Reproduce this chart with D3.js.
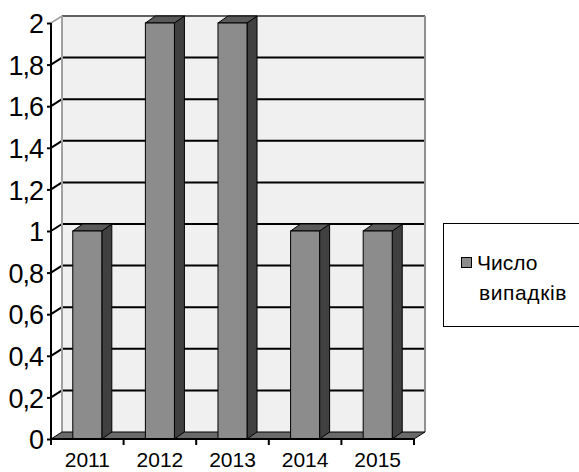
<!DOCTYPE html>
<html>
<head>
<meta charset="utf-8">
<script src="https://cdn.jsdelivr.net/npm/d3@7"></script>
<style>
  html, body { margin: 0; padding: 0; background: #fff; }
  svg { display: block; font-family: "Liberation Sans", Arial, sans-serif; }
</style>
</head>
<body>
<svg id="chart" width="579" height="472"></svg>
<script>
// Data
const years = ["2011", "2012", "2013", "2014", "2015"];
const cases = [1, 2, 2, 1, 1];
const yTicks = [0, 0.2, 0.4, 0.6, 0.8, 1, 1.2, 1.4, 1.6, 1.8, 2];
const seriesName = ["Число", "випадків"];

(function () {
  const svg = d3.select("#chart");

  // Plot geometry (front plane) and 3D depth offsets
  const plotL = 51, plotR = 414, plotT = 23, plotB = 439;
  const wallDx = 11, wallDy = -7;
  const barDx = 10, barDy = -7;

  const x = d3.scaleBand().domain(years).range([plotL, plotR]).padding(0);
  const y = d3.scaleLinear().domain([0, 2]).range([plotB, plotT]);
  const barW = x.bandwidth() * 0.4;

  const fmt = d => String(+d.toFixed(1)).replace(".", ",");

  // Left side wall (white)
  svg.append("path")
    .attr("d", `M${plotL},${y(0)} L${plotL},${y(2)} L${plotL + wallDx},${y(2) + wallDy} L${plotL + wallDx},${y(0) + wallDy} Z`)
    .attr("fill", "#fff");

  // Back wall
  svg.append("rect")
    .attr("x", plotL + wallDx).attr("y", y(2) + wallDy)
    .attr("width", plotR - plotL).attr("height", y(0) - y(2))
    .attr("fill", "#f0f0f0");

  // Gridlines: on back wall and diagonal on side wall
  const grid = svg.append("g");
  yTicks.filter(t => t > 0 && t < 2).forEach(t => {
    grid.append("line")
      .attr("x1", plotL + wallDx).attr("x2", plotR + wallDx)
      .attr("y1", y(t) + wallDy).attr("y2", y(t) + wallDy)
      .attr("stroke", "#000").attr("stroke-width", 2);
    grid.append("line")
      .attr("x1", plotL).attr("x2", plotL + wallDx)
      .attr("y1", y(t)).attr("y2", y(t) + wallDy)
      .attr("stroke", "#000").attr("stroke-width", 2);
  });

  // Wall borders
  svg.append("line")
    .attr("x1", plotL + wallDx).attr("x2", plotR + wallDx)
    .attr("y1", y(2) + wallDy).attr("y2", y(2) + wallDy)
    .attr("stroke", "#606060").attr("stroke-width", 2);
  svg.append("line")
    .attr("x1", plotL + wallDx).attr("x2", plotL + wallDx)
    .attr("y1", y(2) + wallDy).attr("y2", y(0) + wallDy)
    .attr("stroke", "#a0a0a0").attr("stroke-width", 2);
  svg.append("line")
    .attr("x1", plotR + wallDx).attr("x2", plotR + wallDx)
    .attr("y1", y(2) + wallDy).attr("y2", y(0) + wallDy)
    .attr("stroke", "#909090").attr("stroke-width", 2);
  svg.append("line")
    .attr("x1", plotL).attr("x2", plotL + wallDx)
    .attr("y1", y(2)).attr("y2", y(2) + wallDy)
    .attr("stroke", "#a0a0a0").attr("stroke-width", 1.5);

  // Floor
  svg.append("path")
    .attr("d", `M${plotL},${y(0)} L${plotR},${y(0)} L${plotR + wallDx},${y(0) + wallDy} L${plotL + wallDx},${y(0) + wallDy} Z`)
    .attr("fill", "#6a6a6a").attr("stroke", "#000").attr("stroke-width", 1);

  // Bars (side, top and front faces)
  const bars = svg.append("g").selectAll("g")
    .data(years.map((yr, i) => ({ yr, v: cases[i] })))
    .join("g");

  bars.each(function (d) {
    const g = d3.select(this);
    const x0 = x(d.yr) + (x.bandwidth() - barW) / 2;
    const x1 = x0 + barW;
    const yt = y(d.v), yb = y(0);
    g.append("path")
      .attr("d", `M${x1},${yb} L${x1},${yt} L${x1 + barDx},${yt + barDy} L${x1 + barDx},${yb + barDy} Z`)
      .attr("fill", "#404040").attr("stroke", "#000").attr("stroke-width", 1).attr("stroke-linejoin", "round");
    g.append("path")
      .attr("d", `M${x0},${yt} L${x1},${yt} L${x1 + barDx},${yt + barDy} L${x0 + barDx},${yt + barDy} Z`)
      .attr("fill", "#5a5a5a").attr("stroke", "#000").attr("stroke-width", 1).attr("stroke-linejoin", "round");
    g.append("rect")
      .attr("x", x0).attr("y", yt).attr("width", barW).attr("height", yb - yt)
      .attr("fill", "#8c8c8c").attr("stroke", "#000").attr("stroke-width", 1);
  });

  // Y axis
  const yAxis = svg.append("g")
    .attr("transform", `translate(${plotL},0)`)
    .call(d3.axisLeft(y).tickValues(yTicks).tickFormat(fmt).tickSize(4).tickPadding(4));
  yAxis.select(".domain").attr("stroke", "#000").attr("stroke-width", 2).attr("d", `M0,${y(0)}V${y(2)}`);
  yAxis.selectAll(".tick line").attr("stroke", "#000").attr("stroke-width", 2);
  yAxis.selectAll(".tick text")
    .attr("font-size", 27).attr("font-family", "'Liberation Sans', Arial, sans-serif")
    .attr("fill", "#000").attr("dy", "0.36em").attr("letter-spacing", "-1");

  // X axis: line, ticks at category boundaries, centered labels
  const xAxis = svg.append("g").attr("transform", `translate(0,${plotB})`);
  xAxis.append("line").attr("x1", plotL).attr("x2", plotR).attr("stroke", "#000").attr("stroke-width", 2);
  const edges = years.map(yr => x(yr)).concat([x(years[years.length - 1]) + x.bandwidth()]);
  xAxis.selectAll("line.tk").data(edges).join("line").attr("class", "tk")
    .attr("x1", d => d).attr("x2", d => d).attr("y1", 0).attr("y2", 6)
    .attr("stroke", "#000").attr("stroke-width", 2);
  xAxis.selectAll("text").data(years).join("text")
    .attr("x", d => x(d) + x.bandwidth() / 2).attr("y", 28)
    .attr("text-anchor", "middle").attr("font-size", 21).attr("fill", "#000")
    .text(d => d);

  // Legend
  const lg = svg.append("g");
  lg.append("rect").attr("x", 443.5).attr("y", 223.5).attr("width", 145).attr("height", 103)
    .attr("fill", "#fff").attr("stroke", "#000").attr("stroke-width", 1);
  lg.append("rect").attr("x", 461.5).attr("y", 257.5).attr("width", 10).attr("height", 10)
    .attr("fill", "#8c8c8c").attr("stroke", "#000").attr("stroke-width", 1);
  lg.append("text").attr("x", 477).attr("y", 270).attr("font-size", 21).attr("fill", "#000").text(seriesName[0]);
  lg.append("text").attr("x", 479).attr("y", 300).attr("font-size", 21).attr("fill", "#000")
    .attr("letter-spacing", "0.6").text(seriesName[1]);
})();
</script>
</body>
</html>
